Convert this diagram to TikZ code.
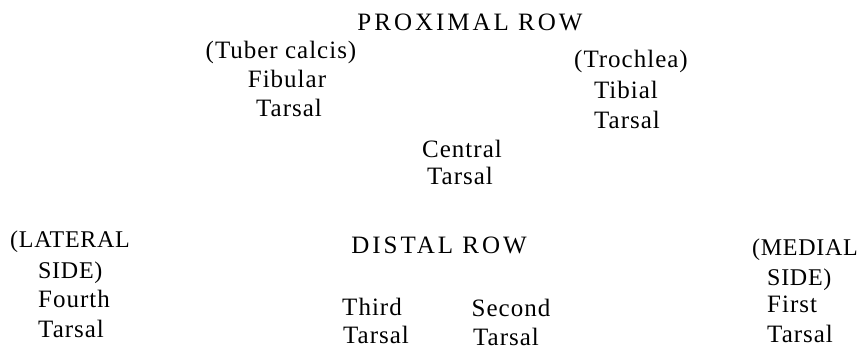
\documentclass[tikz,border=0pt]{standalone}
\usepackage{fontspec}
\setmainfont{Liberation Serif}[LetterSpace=4]
\newfontfamily\capsfont{Liberation Serif}[LetterSpace=12]
\newfontfamily\sidefont{Liberation Serif}[LetterSpace=3]

\tikzset{
  lbl/.style={anchor=base, inner sep=0pt, font=\fontsize{25}{30}\selectfont},
  caplbl/.style={lbl, font=\fontsize{25}{30}\capsfont},
  sidelbl/.style={lbl, anchor=base west, font=\fontsize{24}{30}\sidefont}
}

\begin{document}
\begin{tikzpicture}[x=1pt,y=-1pt]
    \useasboundingbox (0,0) rectangle (866,355);
    % --- proximal row
    \node[caplbl] (proxrow) at (470,31) {PROXIMAL ROW};
    \node[lbl] (tuber)   at (281,59)  {(Tuber calcis)};
    \node[lbl] (fibular) at (287,88)  {Fibular};
    \node[lbl] (fibtars) at (289,117) {Tarsal};
    \node[lbl] (trochlea) at (631,68) {(Trochlea)};
    \node[lbl] (tibial)  at (626,99)  {Tibial};
    \node[lbl] (tibtars) at (627,129) {Tarsal};
    \node[lbl] (central) at (462,158) {Central};
    \node[lbl] (centars) at (460,185) {Tarsal};
    % --- distal row
    \node[caplbl] (distrow) at (439,253) {DISTAL ROW};
    \node[sidelbl] (lateral) at (10,247) {(LATERAL};
    \node[sidelbl] (latside) at (38,278) {SIDE)};
    \node[lbl,anchor=base west] (fourth)  at (38,307)  {Fourth};
    \node[lbl,anchor=base west] (fourtars) at (38,337) {Tarsal};
    \node[lbl] (third)   at (372,315) {Third};
    \node[lbl] (thirdtars) at (376,343) {Tarsal};
    \node[lbl] (second)  at (511,316) {Second};
    \node[lbl] (sectars) at (506,345) {Tarsal};
    \node[sidelbl] (medial) at (752,255) {(MEDIAL};
    \node[sidelbl] (medside) at (767,285) {SIDE)};
    \node[lbl,anchor=base west] (first)   at (767,312) {First};
    \node[lbl,anchor=base west] (firsttars) at (767,342) {Tarsal};
\end{tikzpicture}
\end{document}
